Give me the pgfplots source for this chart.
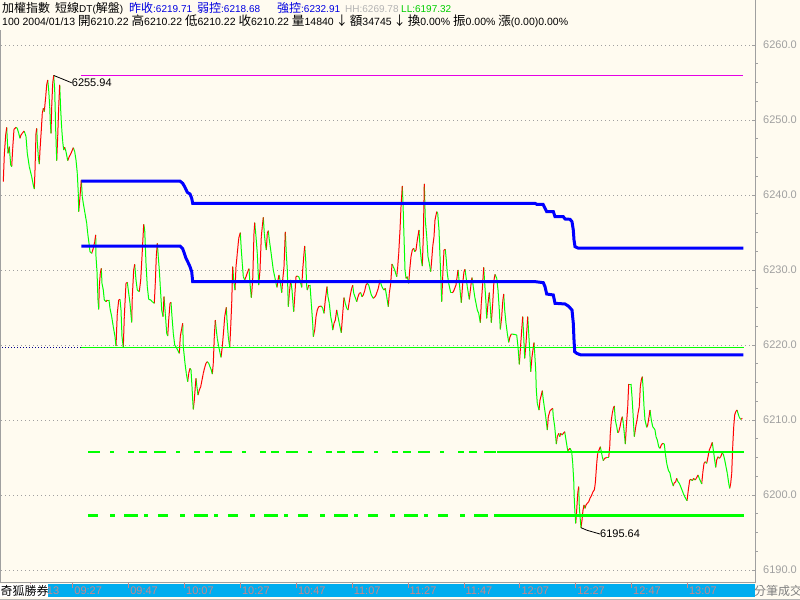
\documentclass[border=0pt]{standalone}
\usepackage{pgfplots}
\pgfplotsset{compat=1.18}
\usepackage{pgfplotstable}
\usepackage{fontspec}
\setmainfont{Liberation Sans}
\newfontfamily\cjk[Scale=1.2]{Noto Sans CJK TC}

\definecolor{bgcream}{RGB}{255,251,240}
\definecolor{dngreen}{RGB}{0,255,0}
\definecolor{lvblue}{RGB}{0,0,255}
\definecolor{hdblue}{RGB}{0,0,225}
\definecolor{axgray}{RGB}{160,160,160}
\definecolor{tkpink}{RGB}{200,135,140}
\definecolor{lvmag}{RGB}{230,0,230}
\definecolor{hhgray}{RGB}{180,180,180}
\definecolor{llgreen}{RGB}{0,205,0}
\definecolor{dotnavy}{RGB}{0,0,140}

% tick-by-tick index price: x = tick position, v = price, c = 1 if it rose to this tick
\pgfplotstableread{
x v c
3.3 6241.78 1
4.3 6245.33 1
5.7 6248.00 1
6.7 6249.02 1
7.3 6247.33 0
8.0 6245.56 0
9.3 6246.44 1
10.7 6244.00 0
11.7 6243.78 0
12.7 6246.22 1
14.0 6248.76 1
16.0 6249.02 1
17.3 6248.89 0
18.7 6248.22 0
20.0 6247.56 0
21.0 6248.00 1
22.3 6248.22 1
24.0 6248.53 1
25.0 6248.22 0
26.0 6247.78 0
27.3 6245.56 0
29.3 6243.78 0
31.7 6242.44 0
33.3 6241.33 0
34.3 6240.80 0
35.0 6243.33 1
36.0 6248.22 1
36.7 6248.89 1
37.3 6247.11 0
38.3 6245.11 0
39.3 6244.13 0
40.0 6246.00 1
41.3 6248.67 1
42.3 6250.89 1
43.3 6251.56 1
44.3 6251.11 0
45.7 6253.11 1
46.7 6254.67 1
47.7 6255.33 1
48.7 6254.00 0
49.7 6251.78 0
50.3 6249.78 0
51.0 6248.22 0
51.7 6251.78 1
52.7 6254.89 1
53.7 6255.94 1
54.7 6254.00 0
55.7 6248.67 0
56.7 6244.58 0
57.7 6247.78 1
58.7 6251.78 1
59.7 6254.67 1
60.7 6251.33 0
61.7 6248.89 0
62.7 6247.11 0
63.7 6246.00 0
64.7 6246.36 1
66.0 6245.78 0
67.7 6244.58 0
69.0 6245.02 1
70.7 6245.47 1
72.0 6245.87 1
73.3 6246.31 1
74.7 6245.78 0
76.0 6244.67 0
77.3 6242.89 0
78.3 6240.22 0
78.7 6237.78 0
80.0 6239.78 1
81.3 6242.00 1
82.3 6239.78 0
83.3 6238.89 0
85.0 6237.56 0
86.7 6236.22 0
87.7 6234.89 0
89.0 6233.56 0
90.0 6232.44 0
91.7 6232.22 0
93.3 6232.89 1
94.7 6233.78 1
95.7 6234.67 1
96.0 6231.78 0
97.0 6229.78 0
98.0 6226.00 0
98.7 6224.76 0
99.3 6227.78 1
100.3 6229.56 1
101.3 6230.22 1
102.0 6228.22 0
103.3 6227.33 0
104.3 6226.00 0
106.0 6225.78 0
107.3 6226.00 1
109.0 6226.00 0
110.0 6224.89 0
111.7 6223.78 0
113.3 6222.44 0
115.0 6221.11 0
116.0 6219.87 0
117.3 6224.22 1
118.7 6226.00 1
120.0 6226.09 1
121.0 6224.67 0
122.0 6221.11 0
123.3 6219.69 0
124.3 6223.78 1
126.0 6228.22 1
127.3 6228.36 1
128.3 6227.33 0
130.0 6225.56 0
131.7 6223.02 0
132.3 6226.44 1
133.7 6230.00 1
134.7 6230.76 1
136.0 6228.67 0
137.3 6227.33 0
139.3 6227.11 0
140.7 6228.67 1
142.0 6231.78 1
143.7 6236.09 1
144.7 6235.33 0
146.0 6230.89 0
147.3 6227.78 0
148.7 6226.09 0
150.7 6226.00 0
152.3 6225.78 0
154.3 6225.56 0
155.3 6228.22 1
156.3 6231.78 1
157.3 6233.56 1
158.3 6231.78 0
159.3 6230.00 0
160.3 6227.78 0
161.7 6224.67 0
163.0 6223.78 0
164.0 6226.44 1
165.3 6224.22 0
166.7 6221.56 0
167.7 6221.20 0
168.7 6223.33 1
170.0 6225.56 1
171.0 6225.69 1
172.0 6223.78 0
173.3 6221.56 0
174.7 6220.00 0
176.3 6219.69 0
177.7 6219.33 0
179.3 6218.89 0
180.3 6221.11 1
181.7 6222.22 1
182.7 6222.89 1
183.3 6219.78 0
185.0 6217.56 0
186.3 6216.22 0
187.7 6215.11 0
188.7 6216.22 1
190.0 6216.89 1
191.0 6216.67 0
192.0 6214.44 0
192.7 6212.67 0
193.3 6211.42 0
194.3 6212.67 1
195.3 6214.44 1
196.0 6215.56 1
196.7 6214.67 0
198.0 6213.33 0
199.3 6214.00 1
200.7 6214.44 1
202.0 6215.33 1
203.3 6216.22 1
204.7 6217.02 1
206.0 6217.56 1
207.3 6217.78 1
208.7 6217.56 0
210.0 6217.11 0
211.3 6216.67 0
212.3 6216.13 0
213.3 6217.56 1
214.3 6221.11 1
215.3 6223.33 1
216.3 6222.00 0
217.3 6220.89 0
218.7 6219.78 0
220.0 6218.98 0
221.0 6218.36 0
222.3 6219.78 1
223.7 6222.00 1
224.7 6223.78 1
226.3 6225.02 1
227.0 6223.33 0
228.3 6221.11 0
229.7 6219.69 0
230.7 6222.44 1
231.7 6225.56 1
232.7 6230.44 1
233.7 6228.67 0
235.0 6227.33 0
236.0 6230.44 1
237.3 6232.22 1
238.7 6234.22 1
240.3 6234.98 1
241.3 6232.67 0
242.3 6230.89 0
243.3 6229.11 0
244.7 6228.67 0
246.0 6229.11 1
247.7 6229.78 1
249.0 6230.18 1
250.0 6228.22 0
251.3 6226.31 0
252.7 6228.67 1
254.0 6234.89 1
254.7 6236.31 1
256.0 6234.44 0
257.3 6232.22 0
258.7 6228.00 0
260.0 6230.00 1
261.3 6234.44 1
262.3 6235.78 1
263.3 6237.02 1
264.3 6234.89 0
265.3 6233.56 0
266.3 6232.67 0
267.3 6234.89 1
268.3 6235.24 1
269.3 6234.00 0
270.7 6232.67 0
272.0 6231.33 0
273.3 6230.00 0
274.7 6229.11 0
276.0 6228.22 0
277.0 6227.69 0
278.0 6228.67 1
279.0 6229.33 1
280.0 6228.67 0
281.7 6226.98 0
282.7 6228.67 1
284.0 6230.44 1
285.3 6235.07 1
286.3 6232.22 0
287.3 6230.00 0
288.3 6225.11 0
289.3 6226.89 1
290.7 6228.67 1
292.0 6227.33 0
293.0 6225.56 0
293.7 6224.44 0
294.7 6226.44 1
296.0 6229.11 1
297.3 6229.20 1
298.7 6229.11 0
300.0 6228.67 0
301.7 6227.69 0
302.7 6230.00 1
304.0 6232.22 1
304.7 6233.20 1
305.7 6231.33 0
306.7 6227.78 0
307.3 6227.33 0
308.7 6228.00 1
310.0 6228.00 0
311.3 6225.56 0
312.7 6222.89 0
313.3 6221.11 0
314.7 6222.00 1
316.0 6223.78 1
317.3 6224.67 1
318.7 6225.11 1
321.3 6225.20 1
322.7 6224.89 0
324.0 6224.22 0
325.3 6226.00 1
327.0 6227.78 1
328.0 6226.44 0
329.3 6225.56 0
330.7 6223.78 0
332.0 6222.89 0
332.7 6222.00 0
334.0 6222.89 1
335.3 6223.33 1
336.7 6224.67 1
338.0 6223.78 0
339.3 6222.89 0
340.7 6222.00 0
341.3 6221.64 0
342.7 6224.22 1
344.0 6226.31 1
345.3 6225.56 0
346.7 6224.89 0
348.0 6224.67 0
349.0 6225.56 1
350.3 6226.67 1
351.7 6227.56 1
352.7 6227.96 1
353.7 6226.89 0
355.0 6226.44 0
356.7 6225.78 0
358.0 6226.44 1
359.3 6226.89 1
360.7 6226.98 1
362.0 6226.44 0
363.3 6226.67 1
364.7 6227.24 1
366.0 6228.00 1
367.3 6228.22 1
368.7 6228.00 0
370.0 6227.33 0
371.3 6226.67 0
373.3 6226.22 0
375.0 6226.44 1
376.0 6226.67 1
378.3 6227.56 1
380.0 6228.67 1
381.3 6228.00 0
382.7 6227.56 0
384.0 6227.33 0
385.3 6227.56 1
386.7 6226.44 0
388.3 6225.11 0
389.3 6226.89 1
390.7 6228.22 1
392.0 6230.80 1
393.3 6230.44 0
394.7 6230.00 0
396.7 6229.11 0
397.7 6230.44 1
398.7 6232.22 1
400.0 6235.33 1
401.0 6238.44 1
402.3 6241.20 1
403.0 6238.89 0
404.0 6234.44 0
405.0 6230.00 0
406.0 6228.89 0
407.3 6229.11 1
408.7 6228.22 0
409.7 6230.00 1
411.0 6231.78 1
412.3 6232.67 1
413.7 6232.89 1
414.7 6232.44 0
416.0 6232.67 1
417.3 6234.00 1
419.0 6235.33 1
420.0 6233.11 0
421.3 6231.33 0
422.3 6230.53 0
423.3 6234.44 1
424.3 6241.47 1
425.3 6236.67 0
426.7 6234.44 0
428.0 6231.78 0
429.3 6230.89 0
430.7 6229.78 0
431.7 6231.33 1
432.7 6233.11 1
434.0 6234.44 1
435.0 6236.67 1
436.7 6237.78 1
437.7 6237.56 0
439.0 6235.33 0
440.0 6231.78 0
441.0 6228.22 0
441.7 6225.78 0
442.7 6229.11 1
444.0 6232.67 1
445.3 6232.76 1
446.3 6231.33 0
447.3 6229.56 0
448.7 6228.22 0
450.7 6226.98 0
452.0 6226.98 0
453.3 6227.07 1
456.0 6228.00 1
458.0 6230.00 1
458.7 6229.11 0
460.0 6227.33 0
461.3 6225.64 0
462.7 6228.22 1
464.0 6229.78 1
465.0 6230.09 1
466.0 6229.11 0
467.3 6227.78 0
469.3 6226.09 0
470.7 6227.78 1
472.0 6228.98 1
473.3 6227.78 0
474.7 6226.44 0
476.0 6225.56 0
477.3 6224.67 0
478.7 6224.22 0
480.3 6222.98 0
481.3 6225.56 1
482.7 6228.22 1
483.7 6230.36 1
484.7 6228.22 0
486.0 6225.56 0
486.7 6223.56 0
488.0 6225.56 1
489.3 6226.98 1
490.3 6225.11 0
491.3 6222.98 0
492.7 6225.56 1
494.0 6228.67 1
495.0 6229.42 1
496.7 6228.89 0
498.0 6227.33 0
499.3 6224.67 0
500.3 6222.09 0
501.7 6223.78 1
502.7 6225.78 1
503.7 6226.80 1
504.7 6224.67 0
506.0 6222.89 0
507.3 6221.56 0
508.7 6220.36 0
510.0 6221.11 1
511.3 6221.47 1
514.0 6221.42 0
516.7 6221.33 0
518.0 6219.78 0
518.7 6218.44 0
519.3 6217.42 0
520.3 6219.33 1
521.7 6222.00 1
522.7 6223.78 1
523.7 6221.11 0
524.7 6218.22 0
526.0 6220.22 1
527.7 6223.78 1
528.7 6221.56 0
529.7 6219.33 0
530.7 6216.44 0
532.0 6218.44 1
534.0 6220.31 1
534.7 6218.89 0
535.7 6216.67 0
536.3 6214.00 0
537.3 6212.22 0
539.0 6211.33 0
540.0 6212.67 1
541.3 6213.33 1
542.3 6213.91 1
543.3 6212.67 0
544.3 6211.78 0
545.7 6210.44 0
547.3 6208.67 0
548.3 6210.44 1
550.0 6211.24 1
552.7 6211.56 1
553.3 6210.44 0
554.7 6209.11 0
556.3 6206.80 0
557.3 6207.78 1
558.7 6208.22 1
559.7 6207.78 0
560.7 6208.22 1
562.0 6208.00 0
564.7 6208.44 1
566.0 6207.33 0
567.7 6205.91 0
570.0 6206.22 1
571.7 6205.78 0
572.7 6204.22 0
573.7 6202.00 0
574.3 6199.33 0
575.0 6197.56 0
575.7 6196.22 0
576.7 6198.00 1
577.7 6200.22 1
578.7 6201.11 1
579.3 6198.44 0
580.3 6196.67 0
581.0 6195.64 0
582.0 6196.67 1
583.0 6198.00 1
584.0 6198.67 1
585.0 6198.22 0
586.0 6198.67 1
587.3 6198.89 1
588.7 6199.11 1
590.0 6199.56 1
591.7 6200.00 1
593.0 6200.44 1
594.3 6200.67 1
595.3 6201.56 1
596.0 6202.89 1
596.7 6204.22 1
597.7 6205.56 1
599.0 6206.00 1
600.3 6206.44 1
601.3 6205.78 0
602.3 6205.11 0
603.3 6204.58 0
604.7 6204.89 1
606.7 6205.02 1
608.7 6205.02 0
609.7 6206.44 1
610.3 6208.22 1
611.3 6210.00 1
612.3 6210.89 1
613.3 6211.56 1
614.3 6211.87 1
615.3 6210.00 0
616.7 6209.11 0
617.7 6208.31 0
618.7 6208.44 1
620.0 6209.11 1
621.3 6210.00 1
622.3 6210.44 1
623.3 6209.56 0
624.3 6208.22 0
625.3 6206.80 0
626.3 6209.11 1
627.7 6211.78 1
628.7 6214.80 1
631.0 6214.80 0
632.0 6213.11 0
633.0 6210.89 0
633.7 6209.11 0
634.3 6207.78 0
635.7 6209.11 1
637.0 6210.00 1
638.0 6210.89 1
639.3 6211.78 1
640.3 6214.44 1
641.3 6215.33 1
642.3 6215.78 1
643.0 6214.44 0
644.0 6211.78 0
645.0 6210.00 0
646.7 6209.02 0
647.7 6209.33 1
649.0 6210.44 1
650.0 6211.33 1
651.3 6210.00 0
652.7 6209.11 0
654.0 6208.89 0
655.0 6208.67 0
656.0 6207.78 0
657.3 6207.33 0
658.7 6206.44 0
660.0 6206.22 0
661.3 6206.67 1
662.7 6206.89 1
664.3 6206.80 0
665.3 6205.56 0
666.7 6204.22 0
668.3 6203.33 0
670.0 6202.89 0
671.3 6202.00 0
673.3 6201.20 0
674.0 6201.56 1
675.7 6201.78 1
676.7 6202.22 1
678.0 6201.78 0
679.3 6201.56 0
680.7 6201.11 0
682.0 6200.67 0
683.3 6200.22 0
684.7 6199.78 0
687.0 6199.24 0
688.3 6200.67 1
689.7 6202.00 1
691.0 6202.09 1
692.3 6201.91 0
693.7 6202.22 1
695.0 6202.00 0
696.3 6202.22 1
698.0 6202.67 1
699.3 6202.22 0
700.7 6201.78 0
701.7 6201.47 0
702.7 6202.89 1
704.0 6204.22 1
705.3 6204.44 1
706.7 6204.22 0
708.0 6205.11 1
709.3 6206.00 1
710.7 6206.44 1
712.3 6207.02 1
713.3 6206.00 0
714.7 6204.67 0
715.7 6203.69 0
716.7 6204.67 1
718.0 6205.11 1
719.3 6204.89 0
720.7 6205.11 1
722.0 6205.56 1
723.3 6205.47 0
724.7 6204.67 0
726.0 6203.78 0
727.3 6202.89 0
728.7 6201.56 0
729.7 6200.89 0
730.7 6201.56 1
731.7 6202.89 1
732.7 6206.44 1
733.7 6209.11 1
734.7 6210.67 1
735.7 6211.11 1
737.0 6211.33 1
738.0 6210.89 0
739.3 6210.36 0
740.7 6210.09 0
742.3 6210.22 1
}\price
% a mesh segment takes the colour of its first point: draw from right to left
\pgfplotstablesort[sort key=x, sort cmp=float >]{\pricerev}{\price}

\begin{document}
\begin{tikzpicture}
\useasboundingbox (0,0) rectangle (800bp,600bp);
\clip (0,0) rectangle (800bp,600bp);
\fill[bgcream] (0,0) rectangle (800bp,600bp);
\fill[cyan] (48bp,3bp) rectangle (755bp,16bp);
\draw[axgray, line width=1bp] (0.5bp,17bp) -- (0.5bp,570bp);
\draw[axgray, line width=1bp] (755bp,17bp) -- (755bp,600bp);
\draw[hhgray, line width=1bp] (0,1bp) -- (800bp,1bp);

\begin{axis}[
  at={(1bp,17bp)}, anchor=south west,
  scale only axis, width=754bp, height=553bp,
  xmin=1, xmax=755, ymin=6188.27, ymax=6262,
  axis x line*=bottom, axis y line*=right,
  axis line style={draw=axgray, line width=1bp},
  /pgf/number format/assume math mode=true,
  ticklabel style={font=\fontsize{11bp}{12bp}\selectfont},
  xtick=\empty,
  extra x ticks={30,72.7,128.6,184.5,240.4,296.3,352.1,408.0,463.9,519.8,575.6,631.5,687.4},
  extra x tick labels={01/13,09:27,09:47,10:07,10:27,10:47,11:07,11:27,11:47,12:07,12:27,12:47,13:07},
  extra x tick style={tick align=outside, major tick length=5bp,
    tick style={draw=tkpink, line width=0.8bp},
    xticklabel style={anchor=west, inner sep=0pt, xshift=1.5bp, yshift=-3bp, text=tkpink}},
  ytick={6190,6200,...,6260},
  minor y tick num=3,
  tick align=inside,
  major tick length=3bp, minor tick length=1.5bp,
  tick style={draw=axgray, line width=0.8bp},
  minor tick style={xshift=2.5bp},
  scaled y ticks=false,
  yticklabel style={anchor=west, inner sep=0pt, xshift=8bp, text=axgray,
    /pgf/number format/fixed, /pgf/number format/fixed zerofill,
    /pgf/number format/precision=1, /pgf/number format/1000 sep={}},
  ymajorgrids,
  major grid style={draw=axgray, dash pattern=on 1bp off 3bp, line width=0.8bp},
  colormap={updown}{rgb255=(0,255,0) rgb255=(255,0,0)},
  point meta min=0, point meta max=1,
  no markers,
]
\addplot[mesh, shader=flat corner, point meta=explicit, line width=1bp]
  table[x=x, y=v, meta=c] {\pricerev};

% reference levels
\addplot[dotnavy, line width=1bp, dash pattern=on 1bp off 2bp] coordinates {(2,6219.71) (81,6219.71)};
\addplot[dngreen, line width=1.3bp] coordinates {(81,6219.71) (744,6219.71)};
\addplot[dngreen, line width=1.5bp, dash pattern=on 12bp off 10bp on 4bp off 14bp on 6bp off 5bp on 8bp off 7bp] coordinates {(88,6205.73) (497,6205.73)};
\addplot[dngreen, line width=1.5bp] coordinates {(497,6205.73) (744,6205.73)};
\addplot[dngreen, line width=3bp, dash pattern=on 10bp off 12bp on 5bp off 9bp on 14bp off 6bp on 4bp off 10bp] coordinates {(88,6197.32) (497,6197.32)};
\addplot[dngreen, line width=3bp] coordinates {(497,6197.32) (744,6197.32)};
\addplot[lvmag, line width=1bp] coordinates {(81,6255.94) (743,6255.94)};
\addplot[lvblue, line width=3bp] coordinates {
  (81.3,6241.85) (180,6241.85) (182.7,6241.56) (185,6241.02) (187.3,6240.36)
  (190,6240.13) (191.7,6239.56) (192.7,6238.89) (535,6238.89) (536.7,6238.76)
  (543,6238.76) (545,6238.22) (546.7,6237.78) (553.3,6237.78) (555,6237.11)
  (563.3,6237.11) (565,6236.8) (570,6236.76) (572,6236.44) (573.3,6235.33)
  (574,6234.0) (575,6233.11) (578.3,6232.91) (743.3,6232.91)};
\addplot[lvblue, line width=3bp] coordinates {
  (81.3,6233.2) (180,6233.2) (182.7,6232.84) (184.3,6232.22) (186,6231.56)
  (187.7,6231.11) (190,6230.44) (191.7,6229.78) (192.7,6228.44) (535.7,6228.44)
  (543.3,6228.31) (545,6227.78) (546.7,6226.8) (553.3,6226.67) (555,6225.56)
  (565,6225.47) (568.3,6225.2) (572,6224.67) (573.3,6222.89) (574,6220.67)
  (574.7,6219.11) (576.7,6218.89) (580.7,6218.68) (743.3,6218.68)};

% high / low marks
\draw[black, line width=0.8bp] (axis cs:53.7,6255.94) -- (axis cs:60,6255.6) -- (axis cs:71.7,6254.96);
\node[anchor=west, inner sep=0pt, font=\fontsize{11bp}{12bp}\selectfont] at (axis cs:71.7,6254.96) {6255.94};
\draw[black, line width=0.8bp] (axis cs:581,6195.64) -- (axis cs:587,6195.3) -- (axis cs:600,6194.8);
\node[anchor=west, inner sep=0pt, font=\fontsize{11bp}{12bp}\selectfont] at (axis cs:600,6194.8) {6195.64};
\end{axis}

% bottom strip
\fill[white] (0,3bp) rectangle (48bp,16bp);
\node[anchor=west, inner sep=0pt, font=\fontsize{10bp}{12bp}\selectfont] at (0.5bp,9.5bp) {\cjk 奇狐勝券};
\node[anchor=west, inner sep=0pt, text=gray, font=\fontsize{10bp}{12bp}\selectfont] at (754bp,9.5bp) {\cjk 分筆成交};

% header
\begin{scope}[every node/.style={anchor=base west, inner sep=0pt, font=\fontsize{10bp}{12bp}\selectfont}]
\node at (2bp,587bp) {\cjk 加權指數};
\node at (55bp,587bp) {{\cjk 短線}DT({\cjk 解盤})};
\node[text=hdblue] at (129bp,587bp) {{\cjk 昨收}:6219.71};
\node[text=hdblue] at (197bp,587bp) {{\cjk 弱控}:6218.68};
\node[text=hdblue] at (277bp,587bp) {{\cjk 強控}:6232.91};
\node[text=hhgray] at (345bp,587bp) {HH:6269.78};
\node[text=llgreen] at (401bp,587bp) {LL:6197.32};
\node[font=\fontsize{10.5bp}{12bp}\selectfont] at (2bp,574bp) {100 2004/01/13 {\cjk 開}6210.22 {\cjk 高}6210.22 {\cjk 低}6210.22 {\cjk 收}6210.22 {\cjk 量}14840\,{\cjk ↓}\,{\cjk 額}34745\,{\cjk ↓}\,{\cjk 換}0.00\% {\cjk 振}0.00\% {\cjk 漲}(0.00)0.00\%};
\end{scope}
\end{tikzpicture}
\end{document}
